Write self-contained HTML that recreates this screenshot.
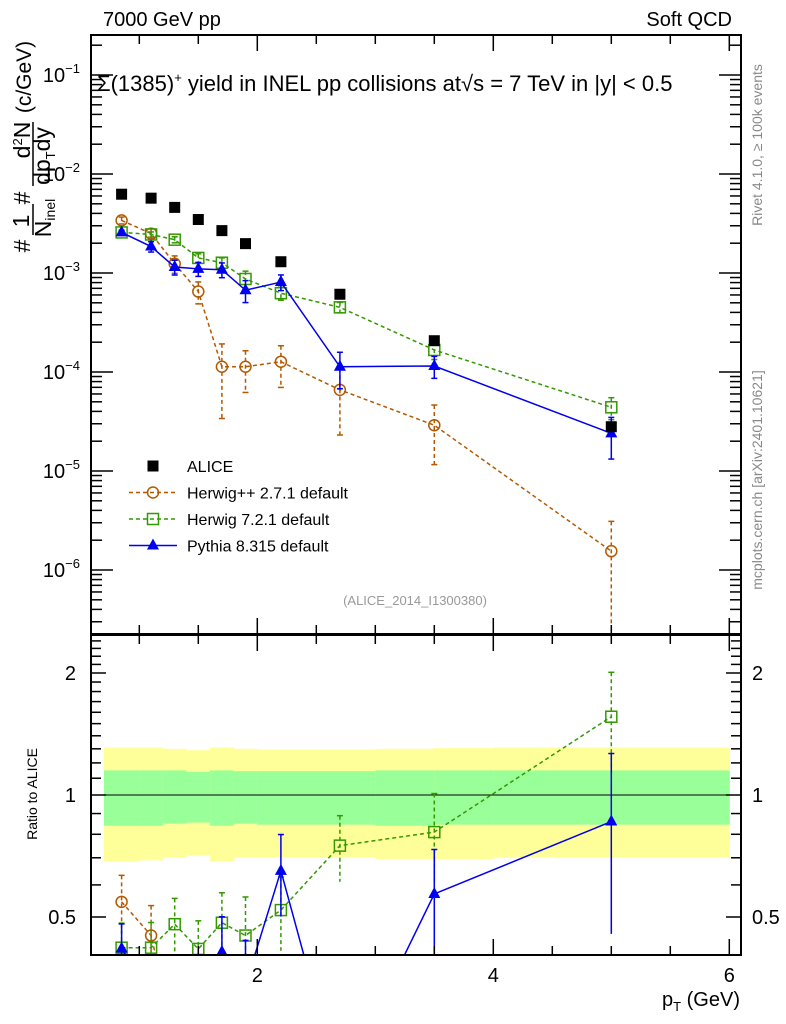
<!DOCTYPE html>
<html><head><meta charset="utf-8"><style>
html,body{margin:0;padding:0;background:#fff;overflow:hidden;width:786px;height:1024px;}
svg{display:block;font-family:"Liberation Sans",sans-serif;}
</style></head><body>
<svg id="c" width="786" height="1024" viewBox="0 0 786 1024" xmlns="http://www.w3.org/2000/svg">
<g id="bands"></g>
<g id="grid"></g>
<g id="series"></g>
<g id="frame"></g>
<text x="103" y="26" font-size="20">7000 GeV pp</text>
<text x="732" y="26" font-size="20" text-anchor="end">Soft QCD</text>
<text x="97" y="91" font-size="22">Σ(1385)<tspan font-size="13" dy="-9">+</tspan><tspan dy="9">  yield in INEL pp collisions at√s = 7 TeV in |y| &lt; 0.5</tspan></text>
<text x="415" y="605" font-size="13" fill="#999" text-anchor="middle">(ALICE_2014_I1300380)</text>
<text transform="translate(762,145) rotate(-90)" font-size="14" fill="#888" text-anchor="middle">Rivet 4.1.0, ≥ 100k events</text>
<text transform="translate(762,480) rotate(-90)" font-size="14" fill="#888" text-anchor="middle">mcplots.cern.ch [arXiv:2401.10621]</text>
<g font-size="23" text-anchor="middle">
<text transform="translate(30,246) rotate(-90)">#</text>
<text transform="translate(29,221) rotate(-90)">1</text>
<line x1="33" y1="235" x2="33" y2="204" stroke="#000" stroke-width="1.5"/>
<text transform="translate(51,218) rotate(-90)">N<tspan font-size="14" dy="4">inel</tspan></text>
<text transform="translate(30,198) rotate(-90)">#</text>
<text transform="translate(30,140) rotate(-90)">d<tspan font-size="13" dy="-8">2</tspan><tspan dy="8">N</tspan></text>
<line x1="33" y1="186" x2="33" y2="122" stroke="#000" stroke-width="1.5"/>
<text transform="translate(50,156) rotate(-90)">dp<tspan font-size="13" dy="5">T</tspan><tspan dy="-5">dy</tspan></text>
<text transform="translate(31,77) rotate(-90)" font-size="21">(c/GeV)</text>
</g>
<text transform="translate(37,794) rotate(-90)" font-size="14" text-anchor="middle">Ratio to ALICE</text>
<text x="740" y="1006" font-size="20" text-anchor="end">p<tspan font-size="13" dy="5">T</tspan><tspan dy="-5"> (GeV)</tspan></text>
<g id="legend"></g>
</svg>
<script>
const pT=[0.85,1.1,1.3,1.5,1.7,1.9,2.2,2.7,3.5,5.0];
const alice=[6.25e-3,5.7e-3,4.6e-3,3.47e-3,2.68e-3,1.98e-3,1.3e-3,6.1e-4,2.07e-4,2.8e-5];
const herwigpp=[3.4e-3,2.5e-3,1.24e-3,6.5e-4,1.13e-4,1.13e-4,1.27e-4,6.6e-5,2.9e-5,1.55e-6];
const herwigppErr=[0.08,0.12,0.2,0.25,0.7,0.45,0.45,0.65,0.6,1.0];
const herwig7=[2.57e-3,2.45e-3,2.17e-3,1.42e-3,1.27e-3,8.7e-4,6.25e-4,4.5e-4,1.67e-4,4.4e-5];
const herwig7Err=[0.05,0.06,0.07,0.1,0.12,0.2,0.15,0.12,0.2,0.25];
const pythia=[2.57e-3,1.85e-3,1.15e-3,1.1e-3,1.08e-3,6.7e-4,8.1e-4,1.13e-4,1.15e-4,2.4e-5];
const pythiaErr=[0.05,0.12,0.17,0.16,0.17,0.25,0.18,0.4,0.25,0.45];
const ratioHpp=[0.545,0.45,0.25,0.19,0.042,0.057,0.098,0.11,0.14,0.055];
const ratioH7=[0.42,0.42,0.48,0.417,0.484,0.45,0.52,0.75,0.81,1.56];
const ratioPy=[0.418,0.32,0.25,0.32,0.41,0.34,0.65,0.19,0.57,0.86];
const bandPts=[0.7,1.0,1.2,1.4,1.6,1.8,2.0,2.4,3.0,3.5,4.0,6.0];
const bandStatLo=[0.84,0.84,0.85,0.855,0.84,0.85,0.845,0.845,0.84,0.845,0.845];
const bandStatHi=[1.15,1.15,1.15,1.14,1.15,1.145,1.145,1.145,1.15,1.15,1.15];
const bandTotLo=[0.685,0.69,0.70,0.71,0.685,0.70,0.70,0.70,0.695,0.695,0.70];
const bandTotHi=[1.31,1.31,1.30,1.29,1.31,1.30,1.295,1.295,1.30,1.305,1.31];
const yTicks=[-1,-2,-3,-4,-5,-6];
const rTicks=[0.5,1,2];

const NS='http://www.w3.org/2000/svg';
const L=91,R=741,T=35,B=634,RT=635,RB=955;
const X=v=>21.3+118*v;
const Y=v=>273-99*(Math.log10(v)+3);
const RY=v=>795-122*Math.log2(v);
function el(tag,attrs,parent){const e=document.createElementNS(NS,tag);for(const k in attrs)e.setAttribute(k,attrs[k]);parent.appendChild(e);return e;}
const svg=document.getElementById('c');
const defs=el('defs',{},svg);
const cp1=el('clipPath',{id:'cm'},defs);el('rect',{x:L,y:T,width:R-L,height:B-T},cp1);
const cp2=el('clipPath',{id:'cr'},defs);el('rect',{x:L,y:RT,width:R-L,height:RB-RT},cp2);

const bg=document.getElementById('bands');
for(let i=0;i<bandTotLo.length;i++){
 const x1=X(bandPts[i]),x2=X(bandPts[i+1]);
 const a=el('rect',{x:x1,y:RY(bandTotHi[i]),width:x2-x1+0.5,height:RY(bandTotLo[i])-RY(bandTotHi[i]),fill:'#ffff99'},bg);
 
 const b=el('rect',{x:x1,y:RY(bandStatHi[i]),width:x2-x1+0.5,height:RY(bandStatLo[i])-RY(bandStatHi[i]),fill:'#99ff99'},bg);
 
}
el('line',{x1:L,x2:R,y1:RY(1),y2:RY(1),stroke:'#000','stroke-width':1},bg);

const fr=document.getElementById('frame');
el('rect',{x:L,y:T,width:R-L,height:B-T,fill:'none',stroke:'#000','stroke-width':2},fr);
el('rect',{x:L,y:RT,width:R-L,height:RB-RT,fill:'none',stroke:'#000','stroke-width':2},fr);
for(let v=1;v<=6;v+=0.5){
 const x=X(v),len=(v%2===0)?16:9;
 [[T,1],[B,-1],[RT,1],[RB,-1]].forEach(([y,d])=>el('line',{x1:x,x2:x,y1:y,y2:y+d*len,stroke:'#000','stroke-width':1.5},fr));
 if(v%2===0){const t=el('text',{x:x,y:982,'font-size':20,'text-anchor':'middle'},fr);t.textContent=v;
 }
}
for(let e=-7;e<=-1;e++){
 for(let m=1;m<10;m++){
  const y=Y(m*Math.pow(10,e));if(y<T||y>B)continue;
  const len=m===1?22:11;
  el('line',{x1:L,x2:L+len,y1:y,y2:y,stroke:'#000','stroke-width':1.5},fr);
  el('line',{x1:R,x2:R-len,y1:y,y2:y,stroke:'#000','stroke-width':1.5},fr);
 }
}
yTicks.forEach(e=>{const t=el('text',{x:80,y:Y(Math.pow(10,e))+7,'font-size':20,'text-anchor':'end'},fr);
 t.innerHTML='10<tspan font-size="13" dy="-9">−'+(-e)+'</tspan>';
 });
for(let v=0.4;v<=2.5;v+=0.1){const y=RY(v);if(y<RT||y>RB)continue;
 const maj=[0.5,1,2].some(q=>Math.abs(q-v)<1e-6);const len=maj?15:10;
 el('line',{x1:L,x2:L+len,y1:y,y2:y,stroke:'#000','stroke-width':1.5},fr);
 el('line',{x1:R,x2:R-len,y1:y,y2:y,stroke:'#000','stroke-width':1.5},fr);}
rTicks.forEach(v=>{[[76,'end'],[752,'start']].forEach(([x,a])=>{const t=el('text',{x:x,y:RY(v)+7,'font-size':20,'text-anchor':a},fr);t.textContent=v;
 });});

function marker(g,type,x,y,col){
 if(type==='sq')return el('rect',{x:x-5.5,y:y-5.5,width:11,height:11,fill:'#000'},g);
 if(type==='circ')return el('circle',{cx:x,cy:y,r:5.5,fill:'none',stroke:col,'stroke-width':1.5},g);
 if(type==='osq')return el('rect',{x:x-5.5,y:y-5.5,width:11,height:11,fill:'none',stroke:col,'stroke-width':1.5},g);
 return el('path',{d:`M${x} ${y-7}L${x+6} ${y+4}L${x-6} ${y+4}Z`,fill:col},g);
}
const sg=document.getElementById('series');
function drawSeries(vals,err,ratio,col,type,dash,name){
 const gm=el('g',{'clip-path':'url(#cm)'},sg);
 
 const pts=pT.map((p,i)=>X(p)+','+Y(vals[i])).join(' ');
 el('polyline',{points:pts,fill:'none',stroke:col,'stroke-width':1.5,'stroke-dasharray':dash},gm);
 pT.map((p,i)=>{const x=X(p);const lo=Y(vals[i]*(1-Math.min(err[i],0.99))),hi=Y(vals[i]*(1+err[i]));
  el('line',{x1:x,x2:x,y1:hi,y2:lo,stroke:col,'stroke-width':1.5,'stroke-dasharray':dash},gm);
  el('line',{x1:x-3,x2:x+3,y1:hi,y2:hi,stroke:col,'stroke-width':1.5},gm);
  el('line',{x1:x-3,x2:x+3,y1:lo,y2:lo,stroke:col,'stroke-width':1.5},gm);
  const m=marker(gm,type,x,Y(vals[i]),col);
  });
 const gr=el('g',{'clip-path':'url(#cr)'},sg);
 
 el('polyline',{points:pT.map((p,i)=>X(p)+','+RY(ratio[i])).join(' '),fill:'none',stroke:col,'stroke-width':1.5,'stroke-dasharray':dash},gr);
 pT.map((p,i)=>{const x=X(p),e=Math.sqrt(err[i]*err[i]+0.02);
  const lo=RY(ratio[i]*(1-Math.min(e,0.9))),hi=RY(ratio[i]*(1+e));
  el('line',{x1:x,x2:x,y1:hi,y2:lo,stroke:col,'stroke-width':1.5,'stroke-dasharray':dash},gr);
  el('line',{x1:x-3,x2:x+3,y1:hi,y2:hi,stroke:col,'stroke-width':1.5},gr);
  const m=marker(gr,type,x,RY(ratio[i]),col);
  });
}
drawSeries(herwigpp,herwigppErr,ratioHpp,'#b35900','circ','4,3','herwigpp');
drawSeries(herwig7,herwig7Err,ratioH7,'#339900','osq','4,3','herwig7');
drawSeries(pythia,pythiaErr,ratioPy,'#0000ee','tri','','pythia');
const ga=el('g',{'clip-path':'url(#cm)'},sg);

pT.forEach((p,i)=>{const m=marker(ga,'sq',X(p),Y(alice[i]),'#000');
 });

const lg=document.getElementById('legend');
const leg=[['ALICE','#000','sq',''],['Herwig++ 2.7.1 default','#b35900','circ','4,3'],['Herwig 7.2.1 default','#339900','osq','4,3'],['Pythia 8.315 default','#0000ee','tri','']];
leg.forEach((d,i)=>{const y=466+i*26.5;const g=el('g',{},lg);
 
 if(i>0)el('line',{x1:129,x2:177,y1:y,y2:y,stroke:d[1],'stroke-width':1.5,'stroke-dasharray':d[3]},g);
 marker(g,d[2],153,y,d[1]);
 const t=el('text',{x:187,y:y+6,'font-size':16},g);t.textContent=d[0];});
</script>
</body></html>
